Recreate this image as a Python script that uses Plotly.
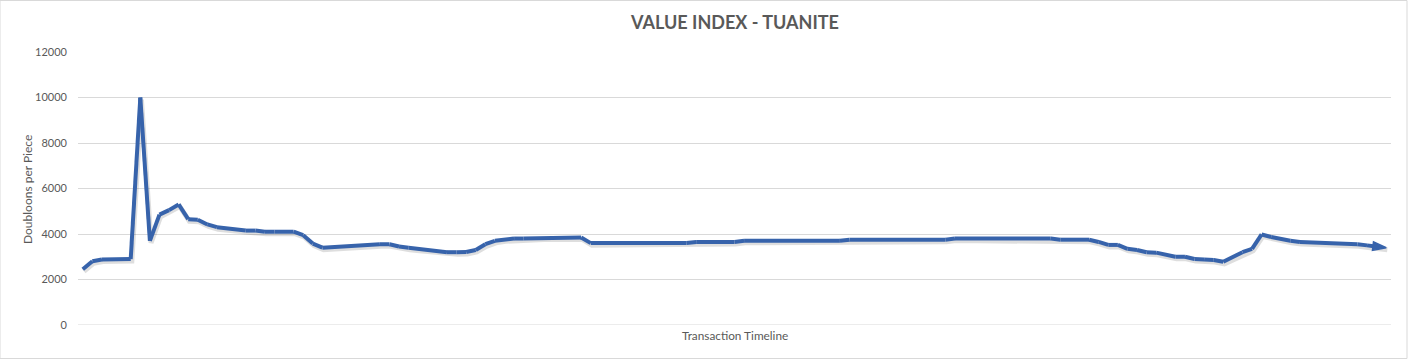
import plotly.graph_objects as go

title_text = "VALUE INDEX - TUANITE"
y_title = "Doubloons per Piece"
x_title = "Transaction Timeline"

values = [
    2450, 2800, 2880, 2900, 2900, 2900, 10000, 3700, 4850, 5050,
    5300, 4650, 4630, 4420, 4300, 4250, 4200, 4150, 4150, 4100,
    4100, 4100, 4100, 3950, 3580, 3400, 3430, 3470, 3500, 3520,
    3550, 3550, 3550, 3450, 3400, 3350, 3300, 3250, 3200, 3200,
    3210, 3300, 3550, 3700, 3770, 3800, 3800, 3810, 3850, 3850,
    3850, 3850, 3850, 3600, 3600, 3600, 3600, 3600, 3600, 3600,
    3600, 3600, 3600, 3600, 3650, 3650, 3650, 3650, 3650, 3700,
    3700, 3700, 3700, 3700, 3700, 3700, 3700, 3700, 3700, 3700,
    3750, 3750, 3750, 3750, 3750, 3750, 3750, 3750, 3750, 3750,
    3750, 3800, 3800, 3800, 3800, 3800, 3800, 3800, 3800, 3800,
    3800, 3800, 3750, 3750, 3750, 3750, 3650, 3520, 3520, 3350,
    3300, 3200, 3180, 3100, 3000, 3000, 2900, 2880, 2860, 2780,
    2980, 3200, 3350, 3980, 3870, 3780, 3700, 3650, 3640, 3600,
    3590, 3590, 3590, 3550, 3500, 3450, 3400,
]
transactions = list(range(1, len(values) + 1))
y_ticks = [0, 2000, 4000, 6000, 8000, 10000, 12000]

line_color = "#3763AB"
text_color = "#595959"
grid_color = "#D9D9D9"
font_family = "Lato, 'Open Sans', sans-serif"

n = len(values)
symbols = ["circle"] * (n - 1) + ["arrow"]
sizes = [0] * (n - 1) + [14]
edge_widths = [0] * (n - 1) + [1.5]

fig = go.Figure()
# soft shadow under the line (same data on offset overlay axes)
fig.add_trace(go.Scatter(
    x=transactions, y=values, mode="lines",
    line=dict(color="rgba(0,0,0,0.13)", width=5),
    xaxis="x2", yaxis="y2", hoverinfo="skip", showlegend=False,
))
# main line on an overlay with the same range as the visible axes (drawn on top)
fig.add_trace(go.Scatter(
    x=transactions, y=values, mode="lines+markers",
    line=dict(color=line_color, width=4),
    marker=dict(symbol=symbols, size=sizes, color=line_color, opacity=1,
                angleref="previous",
                line=dict(width=edge_widths, color=line_color)),
    xaxis="x3", yaxis="y3", showlegend=False,
))

x_range = [0.5, n + 0.5]
y_range = [0, 12000]
fig.update_layout(
    width=1408, height=359,
    margin=dict(l=78, r=17, t=52, b=34),
    paper_bgcolor="white", plot_bgcolor="white",
    font=dict(family=font_family, color=text_color, size=11),
    showlegend=False,
    xaxis=dict(range=x_range, showticklabels=False, showgrid=False,
               zeroline=False, showline=False, ticks=""),
    yaxis=dict(range=y_range, tickvals=y_ticks, tickformat="d",
               showgrid=True, gridcolor=grid_color, gridwidth=1,
               zeroline=False, showline=False, ticks="",
               ticklabelstandoff=10,
               tickfont=dict(size=11, color=text_color)),
    xaxis2=dict(range=[x_range[0] - 0.12, x_range[1] - 0.12], overlaying="x",
                visible=False),
    yaxis2=dict(range=[y_range[0] + 90, y_range[1] + 90], overlaying="y",
                visible=False),
    xaxis3=dict(range=x_range, overlaying="x", visible=False),
    yaxis3=dict(range=y_range, overlaying="y", visible=False),
    annotations=[
        dict(text="<b>" + title_text + "</b>", x=0.5,
             y=1 + (52 - 22) / 273, xref="paper", yref="paper",
             xanchor="center", yanchor="middle", showarrow=False,
             font=dict(size=18, color=text_color, family=font_family)),
        dict(text=y_title, textangle=-90, xref="paper", yref="paper",
             x=-(78 - 27) / 1313, y=(325 - 190) / 273, xanchor="center",
             yanchor="middle", showarrow=False,
             font=dict(size=12, color=text_color)),
        dict(text=x_title, xref="paper", yref="paper",
             x=(735 - 78) / 1313, y=-(335 - 325) / 273,
             xanchor="center", yanchor="middle", showarrow=False,
             font=dict(size=11.8, color=text_color)),
    ],
    shapes=[
        dict(type="line", xref="paper", yref="y", x0=0, x1=1, y0=0, y1=0,
             line=dict(color=grid_color, width=1), layer="below"),
        dict(type="rect", xref="paper", yref="paper",
             x0=-78 / 1313, x1=1 + 16 / 1313,
             y0=-33.5 / 273, y1=1 + 51.5 / 273,
             line=dict(color=grid_color, width=1), layer="below"),
    ],
)

fig.write_html(
    "out.html",
    config={"displayModeBar": False},
    post_script="document.body.style.margin='0px';document.body.style.padding='0px';",
)
